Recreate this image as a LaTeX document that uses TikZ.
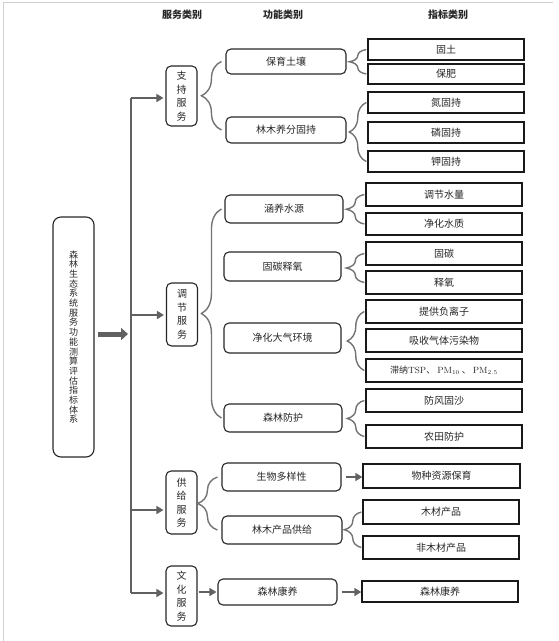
\documentclass[tikz,border=0pt]{standalone}
\usepackage{fontspec}
\newfontfamily\cjk{Noto Sans CJK SC}
\usetikzlibrary{arrows.meta,decorations.pathreplacing}
\begin{document}
\begin{tikzpicture}[x=1pt,y=-1pt,
  txt/.style={font=\cjk\fontsize{10}{12}\selectfont, text=black!85},
  box/.style={txt, draw=black!85, line width=1.1pt, rounded corners=5pt, inner sep=0pt},
  svc/.style={box, minimum width=31pt, align=center, font=\cjk\fontsize{10}{13.5}\selectfont},
  fn/.style={box, minimum width=119pt},
  ind/.style={txt, draw=black!90, line width=1.4pt, inner sep=0pt, minimum width=156pt},
  head/.style={font=\cjk\bfseries\fontsize{10}{12}\selectfont, text=black!85},
  trunk/.style={draw=black!62, line width=1.6pt},
  arr/.style={draw=black!62, line width=1.6pt, -{Triangle[length=7pt,width=8pt]}},
  fat/.style={draw=black!62, line width=5pt, -{Triangle[length=7pt,width=12pt]}},
  brc/.style={draw=black!55, line width=1.4pt, decorate, decoration={brace, amplitude=#1}},
  brc/.default=20pt]
\useasboundingbox (0,0) rectangle (558,641);
\draw[black!18, line width=1pt] (3,641) -- (3,2.5) -- (553,2.5);

% headers
\node[head] (h1) at (182,15) {服务类别};
\node[head] (h2) at (283,15) {功能类别};
\node[head] (h3) at (448,15) {指标类别};

% main box
\node[box, rounded corners=8pt, minimum width=41pt, minimum height=240pt, align=center,
  font=\cjk\fontsize{9}{9.7}\selectfont] (main) at (73.5,337)
  {森\\林\\生\\态\\系\\统\\服\\务\\功\\能\\测\\算\\评\\估\\指\\标\\体\\系};

% service boxes
\node[svc, minimum height=60pt] (s1) at (181.5,96) {支\\持\\服\\务};
\node[svc, minimum height=63pt] (s2) at (182,314.5) {调\\节\\服\\务};
\node[svc, minimum height=63pt] (s3) at (181.5,502.5) {供\\给\\服\\务};
\node[svc, minimum height=60pt] (s4) at (181.5,596) {文\\化\\服\\务};

% function boxes
\node[fn, minimum width=120pt, minimum height=25pt] (f1) at (286,61.5) {保育土壤};
\node[fn, minimum width=120pt, minimum height=26pt] (f2) at (286,130) {林木养分固持};
\node[fn, minimum width=118pt, minimum height=28pt] (f3) at (284,209) {涵养水源};
\node[fn, minimum width=117pt, minimum height=29pt] (f4) at (282.5,266.5) {固碳释氧};
\node[fn, minimum width=117pt, minimum height=30pt] (f5) at (282.5,338) {净化大气环境};
\node[fn, minimum width=118pt, minimum height=28pt] (f6) at (283,418) {森林防护};
\node[fn, minimum width=119pt, minimum height=28pt] (f7) at (281.5,477) {生物多样性};
\node[fn, minimum width=120pt, minimum height=28pt] (f8) at (282,530) {林木产品供给};
\node[fn, minimum width=119pt, minimum height=26pt] (f9) at (277.5,592) {森林康养};

% indicator boxes
\node[ind, minimum height=21pt] (i1) at (446,49.5) {固土};
\node[ind, minimum height=20pt] (i2) at (446,74) {保肥};
\node[ind, minimum height=21pt] (i3) at (446,102.5) {氮固持};
\node[ind, minimum height=21pt] (i4) at (446,132.5) {磷固持};
\node[ind, minimum height=21pt] (i5) at (446,161.5) {钾固持};
\node[ind, minimum height=23pt] (i6) at (444,194.5) {调节水量};
\node[ind, minimum height=22pt] (i7) at (444,224) {净化水质};
\node[ind, minimum height=23pt] (i8) at (444,253.5) {固碳};
\node[ind, minimum height=23pt] (i9) at (444,282.5) {释氧};
\node[ind, minimum height=23pt] (i10) at (444,311.5) {提供负离子};
\node[ind, minimum height=23pt] (i11) at (444,340.5) {吸收气体污染物};
\node[ind, minimum height=23pt] (i12) at (444,370.5)
  {\fontsize{9}{11}\selectfont 滞纳{\rmfamily TSP}、 $\mathrm{PM}_{10}$ 、 $\mathrm{PM}_{2.5}$};
\node[ind, minimum height=23pt] (i13) at (444,400.5) {防风固沙};
\node[ind, minimum height=23pt] (i14) at (444,436.5) {农田防护};
\node[ind, minimum width=157pt, minimum height=24pt] (i15) at (441.5,476) {物种资源保育};
\node[ind, minimum height=24pt] (i16) at (441,512) {木材产品};
\node[ind, minimum height=23pt] (i17) at (441,547.5) {非木材产品};
\node[ind, minimum height=21pt] (i18) at (440,591.5) {森林康养};

% trunk and branches
\coordinate (t1) at (131,98);
\coordinate (t2) at (131,315);
\coordinate (t3) at (131,510);
\coordinate (t4) at (131,593);
\coordinate (tm) at (131,334);
\draw[trunk] (t1) -- (t4);
\draw[fat, shorten <=3pt, shorten >=3pt] (main.east |- tm) -- (tm);
\draw[arr, shorten >=2pt] (t1) -- (t1 -| s1.west);
\draw[arr, shorten >=2pt] (t2) -- (t2 -| s2.west);
\draw[arr, shorten >=2pt] (t3) -- (t3 -| s3.west);
\draw[arr, shorten >=2pt] (t4) -- (t4 -| s4.west);

% direct arrows
\draw[arr, shorten <=1pt, shorten >=1pt] (s4.east |- f9.west) -- (f9.west);
\draw[arr, shorten <=4pt] (f7.east) -- (f7.east -| i15.west);
\draw[arr, shorten <=4pt] (f9.east) -- (f9.east -| i18.west);

% braces service -> function
\draw[brc] ([xshift=-4pt]f2.west) -- ([xshift=-4pt]f1.west);
\draw[brc] ([xshift=-3pt]f3.west |- f6.west) -- ([xshift=-3pt]f3.west);
\draw[brc] ([xshift=-4pt]f7.west |- f8.west) -- ([xshift=-4pt]f7.west);

% braces function -> indicator
\draw[brc=17pt] ([xshift=-1pt]i2.west) -- ([xshift=-1pt]i1.west);
\draw[brc=17pt] ([xshift=-1pt]i5.west) -- ([xshift=-1pt]i3.west);
\draw[brc=18pt] ([xshift=-1pt]i7.west) -- ([xshift=-1pt]i6.west);
\draw[brc=18pt] ([xshift=-1pt]i9.west) -- ([xshift=-1pt]i8.west);
\draw[brc=17pt] ([xshift=-1pt]i12.west) -- ([xshift=-1pt]i10.west);
\draw[brc=17pt] ([xshift=-1pt]i14.west) -- ([xshift=-1pt]i13.west);
\draw[brc=17pt] ([xshift=-1pt]i17.west) -- ([xshift=-1pt]i16.west);
\end{tikzpicture}
\end{document}
